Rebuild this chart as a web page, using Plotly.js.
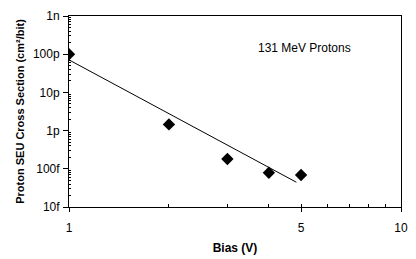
<!DOCTYPE html>
<html><head><meta charset="utf-8">
<script src="https://cdn.plot.ly/plotly-3.0.1.min.js"></script>
<style>html,body{margin:0;padding:0;background:#fff}#c{width:416px;height:259px}</style>
</head><body><div id="c"></div>
<script>
// Measured data (Bias V vs cross section cm^2/bit)
const biasV = [1, 2, 3, 4, 5];
const crossSection = [1.0e-10, 1.45e-12, 1.8e-13, 7.9e-14, 6.9e-14];
// Power-law trendline endpoints as drawn
const trendX = [1, 4.84];
const trendY = [7.1e-11, 4.45e-14];
const yTickVals = [1e-9, 1e-10, 1e-11, 1e-12, 1e-13, 1e-14];
const yTickText = ['1n', '100p', '10p', '1p', '100f', '10f'];
const xTickVals = [1, 5, 10];
const xTickText = ['1', '5', '10'];
const xMinor = [2, 3, 4, 5, 6, 7, 8, 9];

const yMinor = [];
for (let e = -14; e < -9; e++) for (let d = 2; d <= 9; d++) yMinor.push(d * Math.pow(10, e));

const font = {family: 'Liberation Sans, Arial, sans-serif', size: 12, color: '#000'};
const data = [
  {x: trendX, y: trendY, mode: 'lines', line: {color: '#000', width: 1}, hoverinfo: 'skip'},
  {x: biasV, y: crossSection, mode: 'markers', marker: {symbol: 'diamond', size: 9.5, color: '#000'}}
];
const layout = {
  width: 416, height: 259,
  margin: {l: 69, r: 15, t: 16, b: 52},
  paper_bgcolor: '#fff', plot_bgcolor: '#fff',
  showlegend: false, font: font,
  xaxis: {
    type: 'log', range: [0, 1], showgrid: false, zeroline: false,
    showline: true, linecolor: '#000', linewidth: 1, mirror: true,
    tickmode: 'array', tickvals: xTickVals, ticktext: xTickText,
    ticks: 'outside', ticklen: 4, tickcolor: '#000', ticklabelstandoff: 6,
    minor: {tickmode: 'array', tickvals: xMinor, ticks: 'inside', ticklen: 3, tickcolor: '#000', showgrid: false},
    tickfont: font,
    title: {text: 'Bias (V)', font: {family: 'Liberation Sans, Arial, sans-serif', size: 12, color: '#000', weight: 'bold'}, standoff: 9}
  },
  yaxis: {
    type: 'log', range: [-14, -9], showgrid: false, zeroline: false,
    showline: true, linecolor: '#000', linewidth: 1, mirror: true,
    tickmode: 'array', tickvals: yTickVals, ticktext: yTickText,
    ticks: 'outside', ticklen: 5, tickcolor: '#000', ticklabelstandoff: 1,
    minor: {tickmode: 'array', tickvals: yMinor, ticks: 'inside', ticklen: 2, tickcolor: '#000', showgrid: false},
    tickfont: font,
    title: {text: 'Proton SEU Cross Section (cm²/bit)', font: {family: 'Liberation Sans, Arial, sans-serif', size: 11, color: '#000', weight: 'bold'}, standoff: 6}
  },
  annotations: [{
    xref: 'paper', yref: 'paper', x: 0.71, y: 0.83, xanchor: 'center', yanchor: 'middle',
    text: '131 MeV Protons', showarrow: false, font: font
  }]
};
Plotly.newPlot('c', data, layout, {staticPlot: true});
</script></body></html>
